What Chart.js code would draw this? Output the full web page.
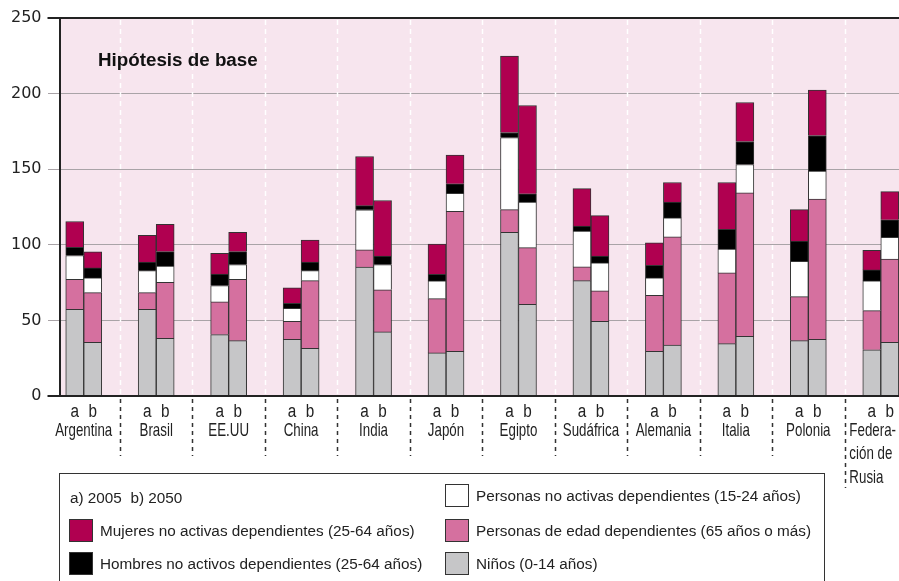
<!DOCTYPE html>
<html>
<head>
<meta charset="utf-8">
<script src="https://cdn.jsdelivr.net/npm/chart.js@4"></script>
<style>
  html, body { margin: 0; padding: 0; background: #fff; overflow: hidden; }
  #wrap { position: relative; width: 899px; height: 581px; overflow: hidden; }
  #legend { position: absolute; left: 59px; top: 473px; width: 764px; height: 140px;
    border: 1px solid #333; font-family: "Liberation Sans", Arial, sans-serif; font-size: 15.3px; color: #222; }
  .item { position: absolute; white-space: pre; }
  .sw { position: absolute; width: 22px; height: 21px; border: 1px solid #333; }
</style>
</head>
<body>
<div id="wrap">
  <canvas id="myChart" width="940" height="581"></canvas>
  <div id="legend"></div>
</div>
<script>
// countries
var countries = ["Argentina", "Brasil", "EE.UU", "China", "India", "Japón", "Egipto",
  "Sudáfrica", "Alemania", "Italia", "Polonia", ["Federa-", "ción de", "Rusia"]];

// a) 2005
var ninos2005    = [57.4, 57.4, 40.6, 37.5, 85.2, 28.5, 108.3, 76.3, 29.6, 34.6, 36.6, 30.6];
var edad2005     = [19.8, 11.0, 21.6, 11.9, 11.4, 35.9, 15.0, 9.1, 37.0, 46.8, 29.1, 25.9];
var jovenes2005  = [15.7, 14.5, 10.8, 8.6, 26.5, 11.7, 47.6, 23.6, 11.5, 15.7, 23.4, 19.6];
var hombres2005  = [5.5, 5.6, 7.7, 3.3, 2.8, 4.4, 3.4, 3.3, 8.4, 13.2, 13.3, 7.3];
var mujeres2005  = [17.0, 17.8, 13.7, 10.2, 32.5, 19.9, 50.5, 24.9, 14.8, 30.9, 20.9, 13.0];

// b) 2050
var ninos2050    = [35.5, 38.2, 36.6, 31.6, 42.4, 29.6, 60.7, 49.4, 33.6, 39.5, 37.5, 35.5];
var edad2050     = [32.9, 37.0, 40.6, 44.7, 27.9, 92.6, 37.4, 20.1, 71.6, 94.8, 92.7, 55.0];
var jovenes2050  = [9.7, 10.8, 9.7, 6.6, 16.6, 11.9, 30.1, 18.5, 12.6, 18.8, 18.5, 14.5];
var hombres2050  = [6.6, 9.5, 8.6, 5.6, 5.6, 6.2, 5.5, 4.5, 10.4, 15.2, 23.6, 11.5];
var mujeres2050  = [10.6, 18.1, 12.8, 14.7, 36.8, 19.0, 58.4, 26.8, 13.0, 25.8, 30.0, 18.7];

var seriesNames = [
  "Niños (0-14 años)",
  "Personas de edad dependientes (65 años o más)",
  "Personas no activas dependientes (15-24 años)",
  "Hombres no activos dependientes (25-64 años)",
  "Mujeres no activas dependientes (25-64 años)"
];
var seriesColors = ["#c6c6c8", "#d5709f", "#ffffff", "#000000", "#b00050"];
var yTicks = [0, 50, 100, 150, 200, 250];

var axisX = 60;
var visibleRight = 899;
var bgPink = "#f7e5ee";

function makeSets(stack, lists) {
  return lists.map(function (vals, i) {
    return {
      label: seriesNames[i],
      data: vals,
      stack: stack,
      backgroundColor: seriesColors[i],
      borderColor: "#333",
      borderWidth: 1,
      barThickness: 18
    };
  });
}

var datasets = makeSets("a", [ninos2005, edad2005, jovenes2005, hombres2005, mujeres2005])
  .concat(makeSets("b", [ninos2050, edad2050, jovenes2050, hombres2050, mujeres2050]));

// narrow text: no condensed font installed, so squeeze horizontally
function narrowText(ctx, txt, x, y, sx) {
  ctx.save();
  ctx.translate(x, y);
  ctx.scale(sx, 1);
  ctx.fillText(txt, 0, 0);
  ctx.restore();
}

var decor = {
  id: "decor",
  beforeDraw: function (chart) {
    var ctx = chart.ctx, a = chart.chartArea;
    ctx.save();
    ctx.fillStyle = bgPink;
    ctx.fillRect(axisX, a.top, a.right - axisX, a.bottom - a.top);
    ctx.restore();
  },
  beforeDatasetsDraw: function (chart) {
    var ctx = chart.ctx, a = chart.chartArea, xs = chart.scales.x;
    ctx.save();
    ctx.strokeStyle = "#ffffff";
    ctx.lineWidth = 1.5;
    ctx.setLineDash([5, 4]);
    for (var i = 0; i < countries.length - 1; i++) {
      var x = Math.round((xs.getPixelForTick(i) + xs.getPixelForTick(i + 1)) / 2) + 0.5;
      ctx.beginPath();
      ctx.moveTo(x, a.top + 2);
      ctx.lineTo(x, a.bottom);
      ctx.stroke();
    }
    ctx.restore();
  },
  afterDraw: function (chart) {
    var ctx = chart.ctx, a = chart.chartArea, xs = chart.scales.x;
    ctx.save();
    // dashed separators under the axis
    ctx.strokeStyle = "#333";
    ctx.lineWidth = 1.5;
    ctx.setLineDash([4, 4]);
    for (var i = 0; i < countries.length - 1; i++) {
      var x = Math.round((xs.getPixelForTick(i) + xs.getPixelForTick(i + 1)) / 2) + 0.5;
      var end = (i == countries.length - 2) ? a.bottom + 92 : a.bottom + 60;
      ctx.beginPath();
      ctx.moveTo(x, a.bottom + 3);
      ctx.lineTo(x, end);
      ctx.stroke();
    }
    ctx.setLineDash([]);
    // axis lines
    ctx.strokeStyle = "#222";
    ctx.lineWidth = 2;
    ctx.beginPath();
    ctx.moveTo(a.left, a.bottom);
    ctx.lineTo(a.right, a.bottom);
    ctx.moveTo(a.left, a.top);
    ctx.lineTo(a.right, a.top);
    ctx.moveTo(axisX, a.top);
    ctx.lineTo(axisX, a.bottom);
    ctx.stroke();
    // a / b under each bar
    ctx.fillStyle = "#222";
    ctx.font = "18px 'Liberation Sans'";
    ctx.textAlign = "center";
    ctx.textBaseline = "middle";
    [[0, "a"], [5, "b"]].forEach(function (p) {
      chart.getDatasetMeta(p[0]).data.forEach(function (bar) {
        narrowText(ctx, p[1], bar.x, a.bottom + 16, 0.85);
      });
    });
    // country names at the category ticks
    var sx = 0.72;
    ctx.font = "18.5px 'Liberation Sans'";
    countries.forEach(function (lab, i) {
      var lines = [].concat(lab);
      var w = 0;
      lines.forEach(function (l) { w = Math.max(w, ctx.measureText(l).width * sx); });
      var x = xs.getPixelForTick(i);
      if (x + w / 2 > visibleRight - 3) {
        // would run off the page: left-align after the separator
        ctx.textAlign = "left";
        x = visibleRight - 3 - w;
      } else {
        ctx.textAlign = "center";
      }
      lines.forEach(function (l, k) {
        narrowText(ctx, l, x, a.bottom + 35 + k * 23.3, sx);
      });
    });
    // title
    ctx.font = "bold 18.8px 'Liberation Sans'";
    ctx.textAlign = "left";
    ctx.fillStyle = "#111";
    ctx.fillText("Hipótesis de base", 98, 61);
    ctx.restore();
  }
};

var c = document.getElementById("myChart").getContext("2d");
var chart = new Chart(c, {
  type: "bar",
  data: { labels: countries, datasets: datasets },
  options: {
    responsive: false,
    animation: false,
    layout: { padding: { top: 18, right: 23, bottom: 0, left: 0 } },
    plugins: { legend: { display: false }, tooltip: { enabled: false } },
    datasets: { bar: { categoryPercentage: 0.715 } },
    scales: {
      x: {
        stacked: true,
        grid: { display: false, drawTicks: false },
        border: { display: false },
        ticks: { display: false },
        afterFit: function (scale) { scale.height = 185; }
      },
      y: {
        stacked: true,
        min: 0,
        max: 250,
        afterBuildTicks: function (scale) {
          scale.ticks = yTicks.map(function (v) { return { value: v }; });
        },
        grid: { color: "#a9a3a7", lineWidth: 1, drawTicks: false },
        border: { display: false },
        ticks: {
          color: "#222",
          font: { family: "DejaVu Sans", size: 16 },
          padding: 6
        },
        afterFit: function (scale) { scale.width = 47.5; }
      }
    }
  },
  plugins: [decor]
});

// legend
var legend = document.getElementById("legend");
function addText(txt, left, top) {
  var d = document.createElement("div");
  d.className = "item";
  d.textContent = txt;
  d.style.left = left + "px";
  d.style.top = top + "px";
  legend.appendChild(d);
}
function addItem(idx, left, top) {
  var s = document.createElement("div");
  s.className = "sw";
  s.style.left = left + "px";
  s.style.top = top + "px";
  s.style.background = seriesColors[idx];
  legend.appendChild(s);
  addText(seriesNames[idx], left + 31, top + 3);
}
addText("a) 2005  b) 2050", 10, 15);
addItem(4, 9, 45);
addItem(3, 9, 78);
addItem(2, 385, 10);
addItem(1, 385, 45);
addItem(0, 385, 78);
</script>
</body>
</html>
